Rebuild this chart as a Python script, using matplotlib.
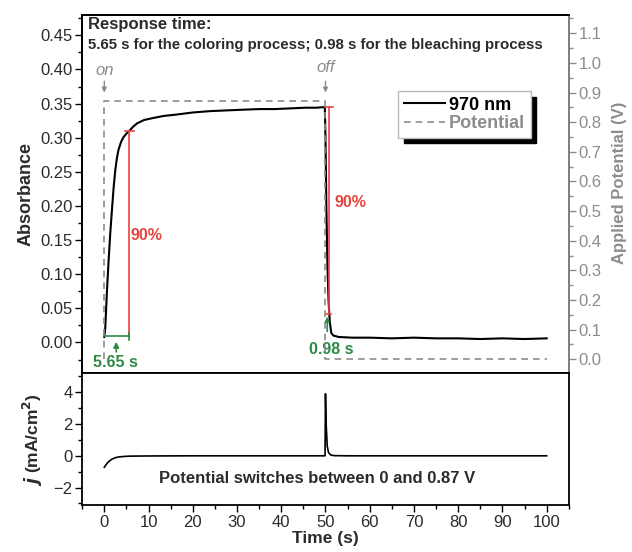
import numpy as np
import matplotlib
matplotlib.use("Agg")
import matplotlib.pyplot as plt
from matplotlib.ticker import MultipleLocator

plt.rcParams['font.family'] = ['Liberation Sans', 'DejaVu Sans']

# Absorbance at 970 nm
t_abs = [0, 0.23, 0.6, 0.98, 1.35, 1.73, 2.1, 2.48, 2.85, 3.2, 3.8, 4.35, 5.0, 5.65,
         6.5, 7.4, 9.0, 11.1, 13.5, 16.4, 20.0, 23.9, 27.5, 31.0, 35.0, 38.5,
         42.0, 45.5, 48.0, 49.85, 50.0, 50.2, 50.45, 50.7, 50.98, 51.3, 51.8,
         53.0, 56.0, 60.0, 65.0, 70.0, 75.0, 80.0, 85.0, 90.0, 95.0, 100.0]
a_abs = [0.008, 0.022, 0.075, 0.120, 0.160, 0.194, 0.226, 0.252, 0.270, 0.282,
         0.294, 0.301, 0.306, 0.310, 0.316, 0.321, 0.326, 0.329, 0.332, 0.334,
         0.337, 0.339, 0.340, 0.341, 0.342, 0.342, 0.343, 0.344, 0.344, 0.345,
         0.300, 0.200, 0.110, 0.060, 0.030, 0.014, 0.010, 0.008, 0.007, 0.007,
         0.006, 0.007, 0.006, 0.006, 0.005, 0.006, 0.005, 0.006]

# Applied potential (V)
t_pot = [0, 0, 50, 50, 100]
v_pot = [0, 0.87, 0.87, 0, 0]

# Current density (mA/cm2)
t_j = [0, 0.3, 0.7, 1.2, 1.8, 2.5, 3.3, 4.5, 6, 10, 20, 30, 40, 49.9,
       50.0, 50.15, 50.4, 50.7, 51.2, 52, 55, 60, 70, 80, 90, 100]
j_cur = [-0.72, -0.6, -0.45, -0.32, -0.2, -0.12, -0.07, -0.04, -0.02, -0.01,
         0, 0, 0, 0, 3.9, 2.0, 0.6, 0.2, 0.05, 0.01, 0, 0, 0, 0, 0, 0]

t_color, a_color_start, a_color_90 = 5.65, 0.010, 0.310
t_bleach, a_bleach_top, a_bleach_90 = 50.7, 0.345, 0.042

dark = "#2b2b2b"
grey = "#8c8c8c"
red = "#e5453f"
green = "#2e8b45"

fig = plt.figure(figsize=(6.32, 5.52), dpi=100)
ax = fig.add_axes([0.130, 0.324, 0.770, 0.649])
ax2 = ax.twinx()
axj = fig.add_axes([0.130, 0.085, 0.770, 0.239], sharex=ax)

# top panel
ax2.plot(t_pot, v_pot, color=grey, lw=1.2, ls=(0, (4, 3)), label="Potential")
ax.plot(t_abs, a_abs, color="black", lw=1.5, label="970 nm")

ax.set_xlim(-5, 105)
ax.set_ylim(-0.045, 0.48)
ax2.set_ylim(-0.047, 1.162)

# colouring response
ax.plot([t_color, t_color], [a_color_start, a_color_90], color=red, lw=1.2)
ax.plot([t_color - 1.0, t_color + 1.0], [a_color_90, a_color_90], color=red, lw=1.2)
ax.plot([0, t_color], [a_color_start, a_color_start], color=green, lw=1.2)
ax.plot([t_color, t_color], [a_color_start - 0.006, a_color_start + 0.004], color=green, lw=1.2)
ax.annotate("", xy=(2.7, 0.005), xytext=(2.7, -0.018),
            arrowprops=dict(arrowstyle="-|>", color=green, lw=1.2, mutation_scale=8))
ax.text(2.5, -0.029, "5.65 s", color=green, fontsize=11.5, fontweight="bold",
        ha="center", va="center")
ax.text(5.9, 0.157, "90%", color=red, fontsize=11.5, fontweight="bold",
        ha="left", va="center")

# bleaching response
ax.plot([t_bleach, t_bleach], [a_bleach_90, a_bleach_top], color=red, lw=1.2)
ax.plot([49.9, 51.8], [a_bleach_top, a_bleach_top], color=red, lw=1.2)
ax.plot([50.2, 51.2], [a_bleach_90, a_bleach_90], color=red, lw=1.2)
ax.annotate("", xy=(50.4, 0.042), xytext=(50.4, 0.012),
            arrowprops=dict(arrowstyle="-|>", color=green, lw=1.2, mutation_scale=7))
ax.text(51.2, -0.010, "0.98 s", color=green, fontsize=11.5, fontweight="bold",
        ha="center", va="center")
ax.text(52.0, 0.205, "90%", color=red, fontsize=11.5, fontweight="bold",
        ha="left", va="center")

# on / off markers
ax.text(0, 0.399, "on", color=grey, fontsize=12, style="italic", ha="center", va="center")
ax.text(50, 0.403, "off", color=grey, fontsize=12, style="italic", ha="center", va="center")
for tx in (0, 50):
    ax.annotate("", xy=(tx, 0.362), xytext=(tx, 0.387),
                arrowprops=dict(arrowstyle="-|>", color=grey, lw=1.0, mutation_scale=7))

ax.text(0.012, 0.995, "Response time:", transform=ax.transAxes, color=dark,
        fontsize=12, fontweight="bold", ha="left", va="top")
ax.text(0.012, 0.935, "5.65 s for the coloring process; 0.98 s for the bleaching process",
        transform=ax.transAxes, color=dark, fontsize=10.8, fontweight="bold",
        ha="left", va="top")

h1, l1 = ax.get_legend_handles_labels()
h2, l2 = ax2.get_legend_handles_labels()
leg = ax.legend(h1 + h2, l1 + l2, loc="upper left", bbox_to_anchor=(0.650, 0.787),
                fancybox=False, shadow={"color": "black", "alpha": 1.0, "ox": 4, "oy": -4},
                framealpha=1, edgecolor="#bbbbbb", handlelength=2.3,
                prop={"weight": "bold", "size": 13}, borderpad=0.3,
                labelspacing=0.1, handletextpad=0.2, borderaxespad=0)
leg.get_texts()[1].set_color(grey)

ax.set_ylabel("Absorbance", fontsize=13, fontweight="bold", color=dark, labelpad=4)
ax2.set_ylabel("Applied Potential (V)", fontsize=12, fontweight="bold", color=grey)
ax2.yaxis.set_label_coords(1.088, 0.53)

ax.yaxis.set_major_locator(MultipleLocator(0.05))
ax.yaxis.set_minor_locator(MultipleLocator(0.025))
ax.yaxis.set_major_formatter(plt.FormatStrFormatter("%.2f"))
ax2.yaxis.set_major_locator(MultipleLocator(0.1))
ax2.yaxis.set_minor_locator(MultipleLocator(0.05))
ax2.yaxis.set_major_formatter(plt.FormatStrFormatter("%.1f"))

ax.tick_params(axis="y", which="major", length=5, width=1, labelsize=12, labelcolor=dark, pad=2)
ax.tick_params(axis="y", which="minor", length=3, width=1)
ax.tick_params(axis="x", which="both", bottom=False, labelbottom=False)
ax2.tick_params(axis="y", which="major", length=5, width=1, labelsize=12,
                labelcolor=grey, color=grey, pad=2)
ax2.tick_params(axis="y", which="minor", length=3, width=1, color=grey)
for s in ax.spines.values():
    s.set_linewidth(1.3)
for name, s in ax2.spines.items():
    s.set_linewidth(1.3)
ax2.spines["right"].set_color(grey)

# bottom panel
axj.plot(t_j, j_cur, color="black", lw=1.2)
axj.set_ylim(-3.1, 5.2)
axj.yaxis.set_major_locator(MultipleLocator(2))
axj.yaxis.set_minor_locator(MultipleLocator(1))
axj.xaxis.set_major_locator(MultipleLocator(10))
axj.xaxis.set_minor_locator(MultipleLocator(5))
axj.tick_params(which="major", length=5, width=1, labelsize=12, labelcolor=dark, pad=2)
axj.tick_params(which="minor", length=3, width=1)
for s in axj.spines.values():
    s.set_linewidth(1.3)
axj.text(48, -1.45, "Potential switches between 0 and 0.87 V", color=dark,
         fontsize=12, fontweight="bold", ha="center", va="center")
axj.set_xlabel("Time (s)", fontsize=12.5, fontweight="bold", color=dark, labelpad=1)
axj.set_ylabel(r"$\boldsymbol{j}$ (mA/cm$^\mathbf{2}$)", fontsize=12.5,
               fontweight="bold", color=dark, labelpad=6)

fig.savefig("out.png", dpi=100)
